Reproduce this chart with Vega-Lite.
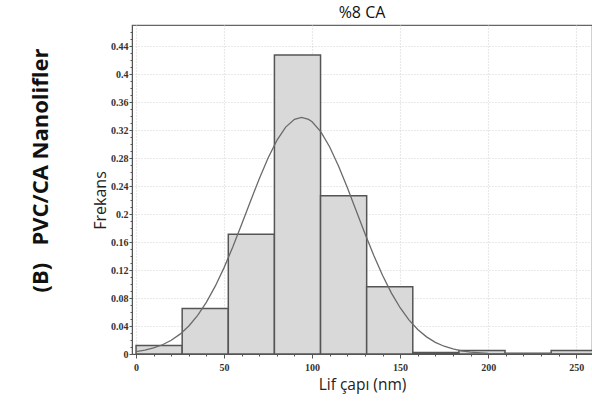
{
  "$schema": "https://vega.github.io/schema/vega-lite/v6.json",
  "autosize": {"type": "none"},
  "padding": {"left": 132, "top": 25, "right": 0, "bottom": 50},
  "width": 460,
  "height": 329,
  "background": "white",
  "config": {
    "view": {"stroke": "#666", "strokeWidth": 1.2},
    "axis": {
      "labelFont": "Liberation Sans Narrow",
      "labelFontWeight": "bold",
      "labelFontSize": 10,
      "labelColor": "#333",
      "titleFont": "Open Sans",
      "titleFontWeight": "normal",
      "titleFontSize": 15.5,
      "titleColor": "#222",
      "domainColor": "#555",
      "tickColor": "#555",
      "gridColor": "#d4d4d4",
      "gridDash": [1, 2],
      "gridWidth": 1.2
    }
  },
  "title": {"text": "%8 CA", "font": "Open Sans", "fontSize": 16, "fontWeight": "normal", "color": "#111", "offset": 4},
  "datasets": {
    "bins": [
      {"start": 0, "end": 26.2, "freq": 0.012},
      {"start": 26.2, "end": 52.4, "freq": 0.065},
      {"start": 52.4, "end": 78.6, "freq": 0.171},
      {"start": 78.6, "end": 104.8, "freq": 0.427},
      {"start": 104.8, "end": 131, "freq": 0.226},
      {"start": 131, "end": 157.2, "freq": 0.096},
      {"start": 157.2, "end": 183.4, "freq": 0.002},
      {"start": 183.4, "end": 209.6, "freq": 0.005},
      {"start": 209.6, "end": 235.8, "freq": 0.001},
      {"start": 235.8, "end": 262, "freq": 0.005}
    ],
    "curve": [
      {"d": 0, "f": 0.0034}, {"d": 5, "f": 0.0055}, {"d": 10, "f": 0.0086}, {"d": 15, "f": 0.0132},
      {"d": 20, "f": 0.0196}, {"d": 25, "f": 0.0284}, {"d": 30, "f": 0.0401}, {"d": 35, "f": 0.0553},
      {"d": 40, "f": 0.0742}, {"d": 45, "f": 0.0969}, {"d": 50, "f": 0.1234}, {"d": 55, "f": 0.1532},
      {"d": 60, "f": 0.1852}, {"d": 65, "f": 0.2182}, {"d": 70, "f": 0.2505}, {"d": 75, "f": 0.2801},
      {"d": 80, "f": 0.3052}, {"d": 85, "f": 0.3241}, {"d": 90, "f": 0.3352}, {"d": 94, "f": 0.338},
      {"d": 98, "f": 0.3352}, {"d": 100, "f": 0.3318}, {"d": 105, "f": 0.3174}, {"d": 110, "f": 0.2958},
      {"d": 115, "f": 0.2687}, {"d": 120, "f": 0.2378}, {"d": 125, "f": 0.205}, {"d": 130, "f": 0.1722},
      {"d": 135, "f": 0.141}, {"d": 140, "f": 0.1124}, {"d": 145, "f": 0.0873}, {"d": 150, "f": 0.0661},
      {"d": 155, "f": 0.0488}, {"d": 160, "f": 0.0351}, {"d": 165, "f": 0.0245}, {"d": 170, "f": 0.0167},
      {"d": 175, "f": 0.0111}, {"d": 180, "f": 0.0072}, {"d": 185, "f": 0.0046}, {"d": 190, "f": 0.0028},
      {"d": 200, "f": 0.001}, {"d": 210, "f": 0.0003}, {"d": 225, "f": 0.0001}, {"d": 259, "f": 0}
    ]
  },
  "layer": [
    {
      "data": {"name": "curve"},
      "mark": {"type": "line", "opacity": 0},
      "encoding": {
        "x": {
          "field": "d", "type": "quantitative",
          "scale": {"domain": [-2.3, 259], "nice": false, "zero": false},
          "axis": {"orient": "bottom", "values": [10, 20, 30, 40, 60, 70, 80, 90, 110, 120, 130, 140, 160, 170, 180, 190, 210, 220, 230, 240], "labels": false, "domain": false, "grid": false, "tickSize": 2, "title": null}
        },
        "y": {
          "field": "f", "type": "quantitative",
          "scale": {"domain": [0, 0.47], "nice": false},
          "axis": {"orient": "left", "values": [0.01, 0.02, 0.03, 0.05, 0.06, 0.07, 0.09, 0.1, 0.11, 0.13, 0.14, 0.15, 0.17, 0.18, 0.19, 0.21, 0.22, 0.23, 0.25, 0.26, 0.27, 0.29, 0.3, 0.31, 0.33, 0.34, 0.35, 0.37, 0.38, 0.39, 0.41, 0.42, 0.43, 0.45, 0.46], "labels": false, "domain": false, "grid": false, "tickSize": 2, "title": null}
        }
      }
    },
    {
      "data": {"name": "bins"},
      "mark": {"type": "rect", "fill": "#d9d9d9", "stroke": "#555", "strokeWidth": 1.5, "clip": true},
      "encoding": {
        "x": {
          "field": "start", "type": "quantitative",
          "scale": {"domain": [-2.3, 259], "nice": false, "zero": false},
          "axis": {"orient": "bottom", "values": [0, 50, 100, 150, 200, 250], "title": "Lif çapı (nm)", "titlePadding": 5, "labelPadding": 4, "tickSize": 4, "grid": true}
        },
        "x2": {"field": "end"},
        "y": {
          "field": "freq", "type": "quantitative",
          "scale": {"domain": [0, 0.47], "nice": false},
          "axis": {"orient": "left", "values": [0, 0.04, 0.08, 0.12, 0.16, 0.2, 0.24, 0.28, 0.32, 0.36, 0.4, 0.44], "format": ".2~f", "title": "Frekans", "titleFontSize": 16, "titleX": -24, "titleY": 175, "titleAngle": -90, "titleAlign": "center", "titleBaseline": "bottom", "tickSize": 3, "labelPadding": 1, "grid": true}
        },
        "y2": {"datum": 0}
      }
    },
    {
      "data": {"name": "curve"},
      "mark": {"type": "line", "color": "#6a6a6a", "strokeWidth": 1.3, "clip": true},
      "encoding": {
        "x": {"field": "d", "type": "quantitative", "scale": {"domain": [-2.3, 259], "nice": false, "zero": false}, "axis": null},
        "y": {
          "field": "f", "type": "quantitative",
          "scale": {"domain": [0, 0.47], "nice": false},
          "axis": {"orient": "left", "labels": false, "ticks": false, "domain": false, "grid": false, "title": "(B)\u00a0\u00a0\u00a0PVC/CA Nanolifler", "titleFont": "Open Sans", "titleFontWeight": "bold", "titleFontSize": 22, "titleColor": "#111", "titleX": -92, "titleY": 145, "titleAngle": -90, "titleAlign": "center", "titleBaseline": "middle"}
        }
      }
    }
  ],
  "resolve": {"scale": {"x": "independent", "y": "independent"}}
}
